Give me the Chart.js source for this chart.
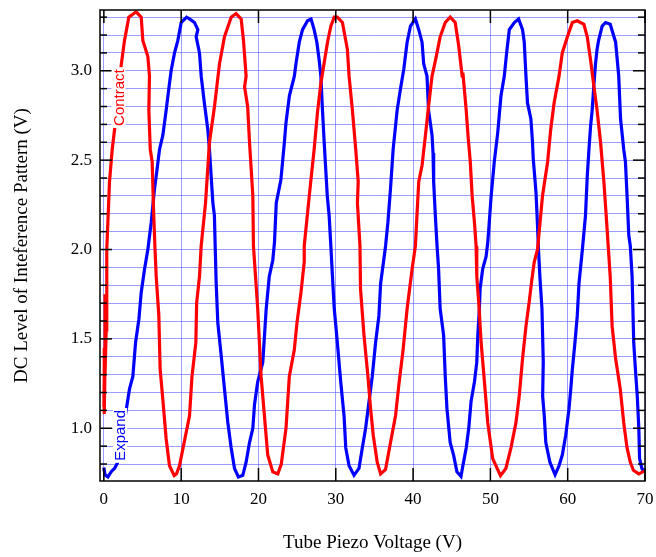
<!DOCTYPE html>
<html>
<head>
<meta charset="utf-8">
<script src="https://cdn.jsdelivr.net/npm/chart.js@4.4.1/dist/chart.umd.min.js"></script>
<style>
  html, body { margin: 0; padding: 0; background: #fff; }
</style>
</head>
<body>
<canvas id="chart" width="656" height="557"></canvas>
<script>
// Contract sweep (red): piezo voltage / DC level pairs
const contractX = [0.0, 0.1, 0.05, 0.2, 0.1, 0.25, 0.15, 0.3, 0.35, 0.4,
    0.73, 1.08, 1.38, 1.81, 2.24, 2.67, 3.23, 4.18, 4.83, 5.04, 5.69, 5.9, 5.82, 6.0, 6.25, 6.42, 6.6,
    6.77, 7.11, 7.28, 7.63, 8.06, 8.49, 9.1, 9.4, 9.78, 11.08, 11.4, 11.9, 12.0, 12.37, 12.59,
    13.15, 13.66, 14.31, 14.96, 15.6, 16.47, 17.1, 17.76, 18.06, 18.4, 18.2, 18.6, 18.84, 19.27, 19.35,
    19.9, 20.34, 20.77, 21.2, 21.85, 22.5, 22.95, 23.56, 23.99, 24.64, 24.98, 25.5, 25.92, 25.92,
    26.57, 27.2, 27.64, 28.07, 28.93, 29.36, 29.8, 30.2, 30.86, 31.5, 31.72, 32.15, 32.58, 32.9, 32.8, 33.13,
    33.2, 33.65, 34.16, 34.5, 34.85, 35.36, 35.8, 36.44, 37.08, 37.73, 38.15, 38.71, 39.23, 39.87, 40.3,
    40.5, 40.73, 41.16, 41.6, 42.0, 42.45, 42.9, 43.5, 44.16, 44.8, 45.45, 45.9, 46.35, 46.44,
    46.87, 47.1, 47.4, 47.64, 47.94, 48.15,
    48.24, 48.5, 48.8, 49.23, 49.66, 50.3, 51.3, 52.0, 52.66, 53.3, 53.73, 54.16, 54.6, 55.0, 55.36, 55.67, 56.1,
    56.74, 57.4, 57.8, 58.24, 58.88, 59.3, 59.96, 60.6, 61.24, 62.1, 62.53, 62.96, 63.4, 63.8, 64.25, 64.68, 64.98, 65.24,
    65.5, 65.75, 66.2, 66.8, 67.25, 67.68, 68.1, 68.5, 69.2, 69.9];
const contractY = [1.12, 1.45, 1.08, 1.6, 1.2, 1.75, 1.3, 1.55, 1.95, 2.0,
    2.38, 2.56, 2.67, 2.78, 3.03, 3.17, 3.30, 3.33, 3.30, 3.17, 3.08, 2.97, 2.78, 2.56, 2.49, 2.23, 2.02,
    1.85, 1.63, 1.33, 1.16, 0.94, 0.79, 0.735, 0.745, 0.79, 1.07, 1.29, 1.48, 1.70, 1.85, 2.02,
    2.26, 2.60, 2.80, 3.04, 3.19, 3.30, 3.32, 3.29, 3.17, 2.97, 2.91, 2.80, 2.60, 2.30, 2.02,
    1.67, 1.29, 1.07, 0.85, 0.756, 0.745, 0.80, 1.0, 1.29, 1.44, 1.59, 1.76, 1.93, 2.02,
    2.30, 2.56, 2.77, 2.93, 3.16, 3.25, 3.30, 3.30, 3.27, 3.12, 2.97, 2.78, 2.56, 2.38, 2.26, 2.02,
    1.78, 1.52, 1.29, 1.11, 0.96, 0.81, 0.745, 0.77, 0.92, 1.07, 1.24, 1.44, 1.67, 1.89, 2.02,
    2.19, 2.38, 2.47, 2.64, 2.80, 2.97, 3.06, 3.19, 3.27, 3.30, 3.27, 3.14, 2.97, 2.99,
    2.78, 2.64, 2.49, 2.30, 2.15, 2.02,
    1.85, 1.70, 1.48, 1.26, 1.03, 0.83, 0.735, 0.775, 0.89, 1.03, 1.18, 1.39, 1.57, 1.70, 1.83, 1.93, 2.0,
    2.30, 2.49, 2.67, 2.82, 2.97, 3.10, 3.19, 3.27, 3.28, 3.26, 3.19, 3.06, 2.91, 2.78, 2.60, 2.38, 2.19, 2.02,
    1.85, 1.57, 1.39, 1.22, 1.03, 0.89, 0.81, 0.765, 0.745, 0.76];

// Expand sweep (blue)
const expandX = [0.05, 0.0, 0.15, 0.52, 1.0, 1.38, 1.8, 2.88, 3.32, 3.75, 4.1, 4.53, 4.83, 5.26, 5.69,
    6.12, 6.55, 6.77, 7.2, 7.63, 8.06, 8.49, 8.7, 9.14, 9.57, 10.0, 10.7, 11.08, 11.72, 12.16, 11.94, 12.37, 12.59, 13.0, 13.45, 13.66, 13.88, 14.1, 14.3, 14.4,
    14.53, 14.74, 15.17, 15.6, 16.04, 16.47, 16.9, 17.4, 17.97, 18.4, 18.84, 19.27, 19.48, 19.9, 20.56, 21.0, 21.4, 21.85, 22.07,
    22.3, 22.9, 23.35, 23.56, 24.0, 24.64, 24.85, 25.28, 25.7, 26.35, 26.8, 27.2, 27.55, 27.85, 28.07, 28.28, 28.5, 28.7, 28.9, 29.14, 29.36,
    29.57, 29.8, 30.2, 30.64, 31.07, 31.29, 31.72, 32.36, 33.0, 33.43, 33.86, 34.3, 34.72, 35.15, 35.58, 35.8, 36.2, 36.44,
    36.74, 37.08, 37.42, 37.94, 38.37, 38.8, 39.23, 39.66, 40.3, 40.73, 41.16, 41.37, 41.8, 42.0, 42.45, 42.58, 42.66, 42.88, 43.1,
    43.3, 43.5, 43.95, 44.16, 44.38, 44.8, 45.24, 45.67, 46.2, 46.44, 46.87, 47.2, 47.5, 47.94, 48.24, 48.37, 48.58, 48.67, 49.0, 49.44, 49.66,
    49.8, 50.1, 50.5, 50.94, 51.37, 51.8, 52.1, 52.45, 53.1, 53.65, 54.16, 54.38, 54.6, 54.8, 55.24, 55.45, 55.54, 55.9, 56.1, 56.2,
    56.4, 56.67, 56.84, 56.76, 56.97, 57.17, 57.7, 58.37, 58.88, 59.3, 59.74, 60.17, 60.4, 60.6, 60.94, 61.24, 61.46, 61.9,
    62.3, 62.53, 62.75, 62.96, 63.17, 63.4, 63.6, 63.8, 64.0, 64.46, 64.9, 65.5, 66.2, 66.6, 66.84, 67.25, 67.47, 67.68, 67.9,
    68.1, 68.33, 68.54, 68.76, 69.0, 69.2, 69.3, 69.6, 69.9];
const expandY = [0.76, 0.78, 0.74, 0.728, 0.76, 0.775, 0.81, 1.1, 1.22, 1.29, 1.48, 1.61, 1.76, 1.89, 2.0,
    2.15, 2.34, 2.41, 2.56, 2.64, 2.78, 2.93, 3.0, 3.1, 3.17, 3.27, 3.30, 3.29, 3.27, 3.23, 3.19, 3.10, 2.97, 2.82, 2.67, 2.56, 2.41, 2.26, 2.19, 2.02,
    1.81, 1.59, 1.41, 1.22, 1.03, 0.89, 0.775, 0.728, 0.737, 0.81, 0.92, 1.0, 1.13, 1.26, 1.37, 1.67, 1.85, 1.94, 2.04,
    2.26, 2.39, 2.60, 2.71, 2.86, 2.97, 3.04, 3.16, 3.23, 3.28, 3.29, 3.23, 3.16, 3.06, 2.97, 2.78, 2.60, 2.45, 2.30, 2.19, 2.02,
    1.85, 1.67, 1.48, 1.26, 1.07, 0.89, 0.79, 0.737, 0.775, 0.89, 1.0, 1.15, 1.29, 1.48, 1.63, 1.81, 1.94, 2.02,
    2.15, 2.34, 2.56, 2.78, 2.90, 3.01, 3.16, 3.25, 3.29, 3.23, 3.16, 3.04, 2.97, 2.78, 2.64, 2.54, 2.38, 2.19, 2.02,
    1.89, 1.67, 1.52, 1.29, 1.11, 0.92, 0.85, 0.756, 0.73, 0.79, 0.89, 1.0, 1.15, 1.26, 1.37, 1.52, 1.67, 1.78, 1.89, 1.96, 2.04,
    2.12, 2.30, 2.49, 2.65, 2.86, 2.97, 3.10, 3.23, 3.27, 3.29, 3.23, 3.16, 2.97, 2.82, 2.73, 2.60, 2.51, 2.32, 2.13, 2.02,
    1.85, 1.67, 1.37, 1.18, 1.07, 0.92, 0.81, 0.74, 0.79, 0.85, 0.96, 1.11, 1.22, 1.33, 1.48, 1.63, 1.81, 2.0,
    2.19, 2.41, 2.56, 2.69, 2.78, 2.93, 3.04, 3.12, 3.17, 3.25, 3.27, 3.26, 3.16, 2.97, 2.73, 2.56, 2.49, 2.30, 2.08,
    2.02, 1.85, 1.48, 1.33, 1.18, 1.0, 0.83, 0.775, 0.756];

const xTickStep = 10;
const yTickStep = 0.1;
const yLabelStep = 0.5;

function toPoints(xs, ys) {
    return xs.map((v, i) => ({ x: v, y: ys[i] }));
}

function isLabelTick(v) {
    return Math.abs(v / yLabelStep - Math.round(v / yLabelStep)) < 1e-6;
}

// frame, inward tick marks and the two rotated curve labels
const frameAndLabels = {
    id: 'frameAndLabels',
    afterDatasetsDraw(chart) {
        const { ctx, chartArea: a, scales: { x, y } } = chart;
        ctx.save();
        ctx.strokeStyle = '#000';
        ctx.lineWidth = 1.5;
        const seg = (x1, y1, x2, y2) => {
            ctx.beginPath(); ctx.moveTo(x1, y1); ctx.lineTo(x2, y2); ctx.stroke();
        };
        y.ticks.forEach(t => {
            const py = y.getPixelForValue(t.value);
            const len = isLabelTick(t.value) ? 12 : 7;
            seg(a.left, py, a.left + len, py);
            seg(a.right, py, a.right - len, py);
        });
        x.ticks.forEach(t => {
            const px = x.getPixelForValue(t.value);
            seg(px, a.top, px, a.top + 13);
            seg(px, a.bottom, px, a.bottom - 13);
        });
        ctx.strokeRect(a.left, a.top, a.right - a.left, a.bottom - a.top);

        const tags = [
            { text: 'Contract', color: '#ff0000', x: 1.9, y: 2.85 },
            { text: 'Expand', color: '#0000ff', x: 2.1, y: 0.96 }
        ];
        ctx.font = '15px "Liberation Sans", Arial, sans-serif';
        ctx.textAlign = 'center';
        ctx.textBaseline = 'middle';
        tags.forEach(tag => {
            const w = ctx.measureText(tag.text).width;
            ctx.save();
            ctx.translate(x.getPixelForValue(tag.x), y.getPixelForValue(tag.y));
            ctx.rotate(-Math.PI / 2);
            ctx.fillStyle = '#fff';
            ctx.fillRect(-w / 2 - 2, -7, w + 4, 14);
            ctx.fillStyle = tag.color;
            ctx.fillText(tag.text, 0, 1);
            ctx.restore();
        });
        ctx.restore();
    }
};

const serif = '"Liberation Serif", "Times New Roman", serif';
const gridColor = 'rgba(90, 90, 255, 0.6)';

new Chart(document.getElementById('chart'), {
    type: 'scatter',
    data: {
        datasets: [
            {
                label: 'Contract',
                data: toPoints(contractX, contractY),
                showLine: true,
                borderColor: '#ff0000',
                borderWidth: 3.2,
                pointRadius: 0,
                tension: 0
            },
            {
                label: 'Expand',
                data: toPoints(expandX, expandY),
                showLine: true,
                borderColor: '#0000ff',
                borderWidth: 3.2,
                pointRadius: 0,
                tension: 0
            }
        ]
    },
    options: {
        responsive: false,
        animation: false,
        layout: { padding: { left: 0, top: 10, right: 11, bottom: 0 } },
        plugins: {
            legend: { display: false },
            tooltip: { enabled: false }
        },
        scales: {
            x: {
                type: 'linear',
                min: -0.5,
                max: 70,
                afterFit(scale) {
                    scale.height = 76;
                    scale.paddingLeft = 0;
                    scale.paddingRight = 0;
                },
                border: { display: false },
                grid: { color: gridColor, lineWidth: 1, drawTicks: false },
                ticks: {
                    stepSize: xTickStep,
                    includeBounds: false,
                    padding: 8,
                    color: '#000',
                    font: { family: serif, size: 17 },
                    maxRotation: 0
                },
                title: {
                    display: true,
                    text: 'Tube Piezo Voltage (V)',
                    color: '#000',
                    font: { family: serif, size: 19 },
                    padding: { top: 0, bottom: 3 }
                }
            },
            y: {
                type: 'linear',
                min: 0.705,
                max: 3.34,
                afterFit(scale) {
                    scale.width = 100;
                    scale.paddingTop = 0;
                    scale.paddingBottom = 0;
                },
                border: { display: false },
                grid: { color: gridColor, lineWidth: 1, drawTicks: false },
                ticks: {
                    stepSize: yTickStep,
                    includeBounds: false,
                    autoSkip: false,
                    padding: 8,
                    color: '#000',
                    font: { family: serif, size: 17 },
                    callback: v => isLabelTick(v) ? v.toFixed(1) : ''
                },
                title: {
                    display: true,
                    text: 'DC Level of Inteference Pattern (V)',
                    color: '#000',
                    font: { family: serif, size: 19 },
                    padding: { top: 11, bottom: 0 }
                }
            }
        }
    },
    plugins: [frameAndLabels]
});
</script>
</body>
</html>
